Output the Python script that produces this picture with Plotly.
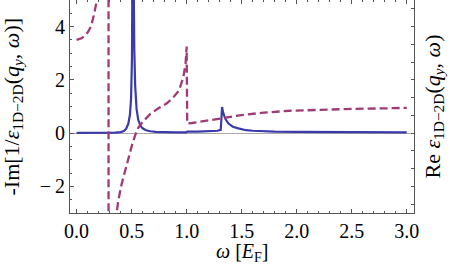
import plotly.graph_objects as go

# -Im[1/eps] (solid blue)
omega_im = [0.0, 0.1, 0.2, 0.3, 0.35, 0.40, 0.43, 0.45, 0.47, 0.485, 0.495, 0.503, 0.508, 0.513,
            0.518, 0.524, 0.532, 0.545, 0.56, 0.58, 0.60, 0.63, 0.67, 0.72, 0.8, 0.9, 0.995,
            1.005, 1.1, 1.2, 1.28, 1.31, 1.315, 1.322, 1.33, 1.35, 1.38, 1.42, 1.47, 1.54,
            1.6, 1.7, 1.8, 2.0, 2.5, 3.0]
neg_im_inv_eps = [0.01, 0.01, 0.012, 0.015, 0.02, 0.04, 0.08, 0.16, 0.35, 0.7, 1.3, 2.8, 5.5, 10,
                  6, 3.2, 1.8, 0.9, 0.5, 0.28, 0.18, 0.11, 0.07, 0.05, 0.035, 0.03, 0.03,
                  0.06, 0.06, 0.07, 0.09, 0.12, 0.5, 0.98, 0.8, 0.55, 0.36, 0.24, 0.18, 0.11,
                  0.09, 0.07, 0.06, 0.05, 0.035, 0.03]

# Re eps (dashed purple)
omega_re = [0.0, 0.05, 0.10, 0.13, 0.155, 0.185, 0.22, 0.25, 0.27, 0.283, 0.29, 0.2905, 0.30,
            0.32, 0.34, 0.363, 0.38, 0.41, 0.455, 0.50, 0.53, 0.56, 0.60, 0.67, 0.75, 0.82,
            0.87, 0.93, 0.97, 0.99, 1.0, 1.005, 1.05, 1.1, 1.2, 1.32, 1.4, 1.5, 1.7, 1.94,
            2.2, 2.5, 2.8, 3.0]
re_eps = [3.5, 3.57, 3.78, 4.0, 4.4, 5.0, 6.5, 9.0, 14, 30, 60, -60, -25,
          -8, -4.5, -3.0, -2.5, -1.9, -1.15, -0.5, -0.1, 0.2, 0.42, 0.72, 0.95, 1.12,
          1.3, 1.6, 2.1, 2.6, 3.25, 0.36, 0.38, 0.41, 0.47, 0.55, 0.61, 0.68, 0.77, 0.84,
          0.88, 0.91, 0.93, 0.95]

x_ticks = [0.0, 0.5, 1.0, 1.5, 2.0, 2.5, 3.0]
x_ticklabels = ["0.0", "0.5", "1.0", "1.5", "2.0", "2.5", "3.0"]
y_ticks = [-2, 0, 2, 4]
y_ticklabels = ["\u2212\u20092", "0", "2", "4"]
right_ticks = [i * 2 / 3 for i in range(-4, 8)]

FONT = "Liberation Serif, Times New Roman, serif"
FRAME = "#555555"
TICKFONT = dict(family=FONT, size=20, color="black")

fig = go.Figure()
fig.add_trace(go.Scatter(x=omega_im, y=neg_im_inv_eps, mode="lines",
                         line=dict(color="#3a3aaa", width=2.2), showlegend=False))
fig.add_trace(go.Scatter(x=omega_re, y=re_eps, mode="lines", yaxis="y2",
                         line=dict(color="#a03a74", width=2.3, dash="8px,4px"), showlegend=False))

fig.update_layout(
    width=450, height=273,
    margin=dict(l=70, r=36, t=0, b=60),
    paper_bgcolor="white", plot_bgcolor="white",
    font=dict(family=FONT, size=20, color="black"),
    xaxis=dict(range=[-0.06, 3.066], tickvals=x_ticks, ticktext=x_ticklabels, tickfont=TICKFONT,
               ticks="inside", ticklen=4, tickcolor=FRAME, showline=True, linecolor=FRAME,
               linewidth=1, mirror="ticks", showgrid=False, zeroline=False,
               minor=dict(dtick=0.1, tick0=0, ticks="inside", ticklen=2, tickcolor=FRAME)),
    yaxis=dict(range=[-3, 5], tickvals=y_ticks, ticktext=y_ticklabels, tickfont=TICKFONT,
               ticks="inside", ticklen=4, tickcolor=FRAME, showline=True, linecolor=FRAME,
               linewidth=1, showgrid=False, zeroline=True, zerolinecolor="#aaaaaa",
               zerolinewidth=1,
               minor=dict(dtick=0.5, tick0=0, ticks="inside", ticklen=2, tickcolor=FRAME)),
    yaxis2=dict(range=[-3, 5], overlaying="y", side="right", tickvals=right_ticks,
                showticklabels=False, ticks="inside", ticklen=3, tickcolor=FRAME,
                showline=True, linecolor=FRAME, linewidth=1, showgrid=False, zeroline=False),
)

fig.add_annotation(text="<i>\u03c9</i> [<i>E</i><sub>F</sub>]", x=1.5, xref="x",
                   y=0, yref="paper", yanchor="middle", yshift=-39, showarrow=False,
                   font=dict(family=FONT, size=20))
fig.add_annotation(text="-Im[1/<i>\u03b5</i><sub>1D\u22122D</sub>(<i>q</i><sub><i>y</i></sub>, <i>\u03c9</i>)]",
                   x=0, xref="paper", xshift=-58, xanchor="center",
                   y=0.5, yref="paper", yanchor="middle", textangle=-90, showarrow=False,
                   font=dict(family=FONT, size=22))
fig.add_annotation(text="Re <i>\u03b5</i><sub>1D\u22122D</sub>(<i>q</i><sub><i>y</i></sub>, <i>\u03c9</i>)",
                   x=1, xref="paper", xshift=19, xanchor="center",
                   y=0.5, yref="paper", yanchor="middle", textangle=-90, showarrow=False,
                   font=dict(family=FONT, size=22))

fig.write_html("out.html")
